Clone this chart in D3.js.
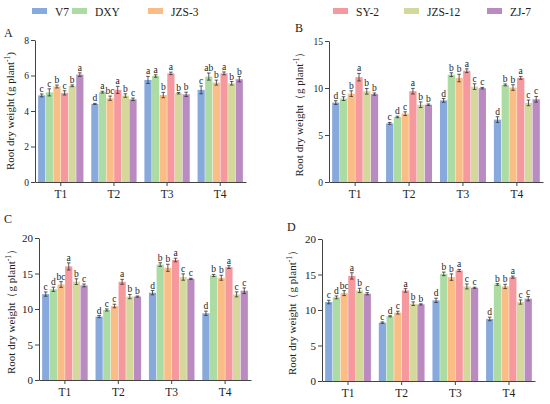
<!DOCTYPE html>
<html>
<head>
<meta charset="utf-8">
<script src="https://cdn.jsdelivr.net/npm/d3@7"></script>
<style>
  body { margin: 0; background: #fff; }
  svg { display: block; }
  text { font-family: "Liberation Serif", "Times New Roman", serif; fill: #222; }
</style>
</head>
<body>
<svg id="chart" width="550" height="404"></svg>
<script>
/* Root dry weight — four grouped bar panels (A–D) */

const categories = ["T1", "T2", "T3", "T4"];
const series = ["V7", "DXY", "JZS-3", "SY-2", "JZS-12", "ZJ-7"];
const colors = ["#87a9db", "#acdca3", "#fbbd86", "#f5999f", "#d5d89b", "#b98bc0"];

// values[category][series]
const rootA = [
  [4.88, 5.05, 5.38, 5.02, 5.42, 6.05],
  [4.40, 5.06, 4.72, 5.19, 4.87, 4.66],
  [5.75, 5.97, 4.90, 6.12, 5.00, 4.94],
  [5.19, 5.94, 5.60, 6.12, 5.56, 5.79]
];
const errA = [
  [0.08, 0.20, 0.08, 0.12, 0.05, 0.10],
  [0.03, 0.05, 0.12, 0.20, 0.10, 0.07],
  [0.20, 0.07, 0.15, 0.07, 0.04, 0.12],
  [0.22, 0.20, 0.14, 0.08, 0.10, 0.15]
];
const sigA = [
  ["c", "c", "b", "c", "b", "a"],
  ["d", "a", "bc", "a", "b", "c"],
  ["a", "a", "b", "a", "b", "b"],
  ["c", "ab", "b", "a", "b", "b"]
];

const rootB = [
  [8.45, 8.87, 9.40, 11.15, 9.65, 9.35],
  [6.23, 6.92, 7.27, 9.66, 8.22, 8.22],
  [8.68, 11.42, 11.06, 11.84, 10.15, 9.98],
  [6.64, 10.33, 10.05, 11.08, 8.42, 8.80]
];
const errB = [
  [0.20, 0.20, 0.30, 0.40, 0.30, 0.12],
  [0.10, 0.08, 0.20, 0.30, 0.30, 0.08],
  [0.20, 0.20, 0.40, 0.20, 0.30, 0.08],
  [0.30, 0.10, 0.30, 0.15, 0.30, 0.30]
];
const sigB = [
  ["d", "c", "b", "a", "b", "b"],
  ["c", "d", "c", "a", "b", "b"],
  ["d", "b", "b", "a", "c", "c"],
  ["d", "b", "b", "a", "c", "c"]
];

const rootC = [
  [12.10, 12.78, 13.45, 16.00, 13.85, 13.32],
  [8.93, 9.86, 10.42, 13.83, 11.75, 11.75],
  [12.30, 16.26, 15.80, 16.90, 14.50, 14.25],
  [9.40, 14.72, 14.40, 15.90, 12.06, 12.57]
];
const errC = [
  [0.30, 0.30, 0.40, 0.50, 0.40, 0.20],
  [0.15, 0.15, 0.25, 0.35, 0.30, 0.08],
  [0.30, 0.25, 0.50, 0.25, 0.45, 0.08],
  [0.30, 0.15, 0.35, 0.20, 0.35, 0.40]
];
const sigC = [
  ["c", "d", "bc", "a", "b", "c"],
  ["d", "c", "c", "a", "b", "b"],
  ["d", "b", "b", "a", "c", "c"],
  ["d", "b", "b", "a", "c", "c"]
];

const rootD = [
  [11.12, 11.78, 12.38, 14.80, 12.76, 12.29],
  [8.22, 9.11, 9.63, 12.76, 10.89, 10.79],
  [11.36, 15.09, 14.63, 15.56, 13.32, 13.13],
  [8.74, 13.60, 13.32, 14.63, 11.12, 11.59]
];
const errD = [
  [0.25, 0.20, 0.35, 0.45, 0.30, 0.15],
  [0.10, 0.08, 0.20, 0.25, 0.25, 0.08],
  [0.30, 0.25, 0.45, 0.15, 0.35, 0.08],
  [0.25, 0.12, 0.30, 0.15, 0.30, 0.30]
];
const sigD = [
  ["c", "d", "bc", "a", "b", "c"],
  ["c", "d", "c", "a", "b", "b"],
  ["d", "b", "b", "a", "c", "c"],
  ["d", "b", "b", "a", "c", "c"]
];

const ticksA = [0, 2, 4, 6, 8];
const ticksB = [0, 5, 10, 15];
const ticksCD = [0, 5, 10, 15, 20];

// panel layout
const panels = [
  { letter: "A", lx: 4,   ly: 37,  x0: 35,  x1: 246, y0: 182, y1: 40,  max: 8,  ticks: ticksA,  vals: rootA, err: errA, sig: sigA, tickFont: "Liberation Sans", full: false, titleOff: 21 },
  { letter: "B", lx: 295, ly: 32,  x0: 329, x1: 543, y0: 182, y1: 41,  max: 15, ticks: ticksB,  vals: rootB, err: errB, sig: sigB, tickFont: "Liberation Sans", full: true,  titleOff: 26 },
  { letter: "C", lx: 4,   ly: 223, x0: 39,  x1: 251, y0: 380, y1: 238, max: 20, ticks: ticksCD, vals: rootC, err: errC, sig: sigC, tickFont: "Liberation Serif", full: true, titleOff: 24 },
  { letter: "D", lx: 287, ly: 231, x0: 322, x1: 535, y0: 381, y1: 239, max: 20, ticks: ticksCD, vals: rootD, err: errD, sig: sigD, tickFont: "Liberation Serif", full: true, titleOff: 26 }
];

const svg = d3.select("#chart");

panels.forEach(p => {
  const g = svg.append("g");

  const x = d3.scaleBand().domain(categories).range([p.x0, p.x1])
    .paddingInner(0.13).paddingOuter(0.05);
  const xs = d3.scaleBand().domain(series).range([0, x.bandwidth()]).padding(0.06);
  const y = d3.scaleLinear().domain([0, p.max]).range([p.y0, p.y1]);

  // bars
  categories.forEach((c, ci) => {
    const grp = g.append("g").attr("transform", `translate(${x(c)},0)`);
    series.forEach((s, si) => {
      const v = p.vals[ci][si], e = p.err[ci][si];
      const bx = xs(s), bw = xs.bandwidth(), cx = bx + bw / 2;
      grp.append("rect")
        .attr("x", bx).attr("y", y(v))
        .attr("width", bw).attr("height", y(0) - y(v))
        .attr("fill", colors[si]);
      // error bar
      grp.append("path")
        .attr("d", `M${cx},${y(v - e)}V${y(v + e)}M${cx - 1.8},${y(v + e)}H${cx + 1.8}M${cx - 1.8},${y(v - e)}H${cx + 1.8}`)
        .attr("stroke", "#333").attr("stroke-width", 0.8).attr("fill", "none");
      grp.append("text")
        .attr("x", cx).attr("y", y(v + e) - 2)
        .attr("text-anchor", "middle")
        .attr("font-size", 9.5)
        .text(p.sig[ci][si]);
    });
  });

  // axes
  const ya = g.append("g").attr("transform", `translate(${p.x0},0)`)
    .call(d3.axisLeft(y).tickValues(p.ticks).tickSize(4).tickSizeOuter(0).tickPadding(2));
  ya.selectAll("text").attr("font-family", p.tickFont).attr("font-size", p.tickFont === "Liberation Sans" ? 9.5 : 11);

  const xa = g.append("g").attr("transform", `translate(0,${p.y0})`)
    .call(d3.axisBottom(x).tickSize(4).tickSizeOuter(0).tickPadding(4));
  xa.selectAll("text").attr("font-family", "Liberation Serif").attr("font-size", 11.5);

  g.selectAll(".domain, .tick line").attr("stroke", "#444").attr("stroke-width", 1);

  // y title
  const t = g.append("text")
    .attr("transform", `translate(${p.x0 - p.titleOff},${(p.y0 + p.y1) / 2}) rotate(-90)`)
    .attr("text-anchor", "middle")
    .attr("font-size", 11);
  t.append("tspan").text(p.full ? "Root dry weight（g plant" : "Root dry weight (g plant");
  t.append("tspan").attr("dy", -4).attr("font-size", 7.5).text("-1");
  t.append("tspan").attr("dy", 4).text(p.full ? "）" : ")");

  // panel letter
  svg.append("text").attr("x", p.lx).attr("y", p.ly).attr("font-size", 12).text(p.letter);
});

// legend
const legendX = [32, 72, 148, 333, 404, 487];
const lg = svg.append("g");
series.forEach((s, i) => {
  lg.append("rect").attr("x", legendX[i]).attr("y", 8).attr("width", 15).attr("height", 6).attr("fill", colors[i]);
  lg.append("text").attr("x", legendX[i] + 23).attr("y", 15.5).attr("font-size", 11.5).text(s);
});
</script>
</body>
</html>
